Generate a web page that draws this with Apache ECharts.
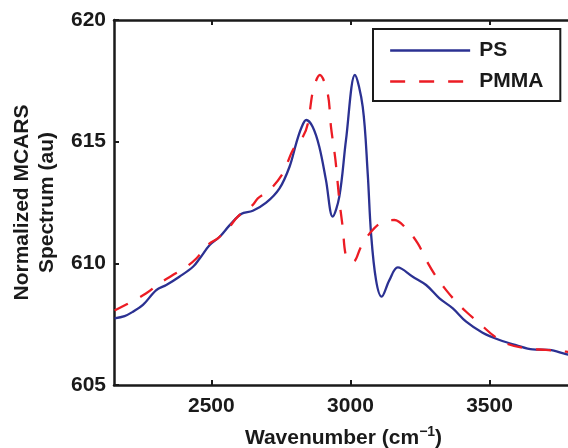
<!DOCTYPE html>
<html>
<head>
    <meta charset="utf-8">
    <title>MCARS spectrum</title>
    <script src="https://cdn.jsdelivr.net/npm/echarts@6/dist/echarts.min.js"></script>
    <style>
        html,body{
            margin: 0;
            padding: 0;
            background: #ffffff;
        }
        #chart{
            width: 568px;
            height: 448px;
        }
    </style>
</head>
<body>
<div id="chart"></div>
<script>
    // values
    var psWavenumber = [2152, 2188, 2218, 2254, 2302, 2338, 2385, 2434, 2458, 2494, 2530, 2566, 2607, 2649, 2697, 2745, 2781, 2805, 2823, 2841, 2864, 2888, 2912, 2936, 2960, 2984, 3016, 3044, 3062, 3074, 3092, 3112, 3140, 3170, 3224, 3272, 3320, 3368, 3416, 3475, 3536, 3595, 3655, 3715, 3775, 3800];
    var psSignal = [607.74, 607.83, 608.01, 608.29, 608.90, 609.11, 609.45, 609.86, 610.20, 610.75, 611.09, 611.57, 612.03, 612.16, 612.49, 613.08, 613.97, 614.93, 615.55, 615.89, 615.61, 614.79, 613.42, 611.92, 612.74, 615.07, 617.74, 616.44, 613.70, 611.23, 609.31, 608.63, 609.31, 609.83, 609.45, 609.11, 608.56, 608.15, 607.60, 607.15, 606.85, 606.64, 606.46, 606.44, 606.27, 606.22];

    var pmmaWavenumber = [2152, 2224, 2266, 2314, 2356, 2410, 2446, 2494, 2523, 2565, 2595, 2649, 2667, 2709, 2757, 2793, 2829, 2847, 2866, 2890, 2918, 2930, 2946, 2960, 2972, 2986, 3010, 3038, 3074, 3116, 3158, 3200, 3242, 3272, 3308, 3344, 3380, 3416, 3464, 3512, 3559, 3631, 3703, 3775, 3800];
    var pmmaSignal = [608.06, 608.49, 608.77, 609.18, 609.48, 609.86, 610.20, 610.82, 611.03, 611.50, 611.92, 612.40, 612.67, 613.01, 613.70, 614.66, 615.20, 615.75, 617.12, 617.74, 616.99, 615.61, 614.25, 612.60, 611.50, 610.22, 610.07, 610.68, 611.30, 611.71, 611.78, 611.44, 610.82, 610.14, 609.45, 608.90, 608.42, 608.01, 607.53, 607.05, 606.71, 606.51, 606.44, 606.37, 606.35];

    var xTicks = [2500, 3000, 3500];

    function pairs(xs, ys){
        var out = [];
        for(var i=0;i<xs.length;i++){
            out.push([xs[i], ys[i]]);
        }
        return out;
    }

    var font = '"Liberation Sans", Arial, Helvetica, sans-serif';
    var ink = '#1a1a1a';

    var myChart = echarts.init(document.getElementById('chart'));
    var option = {
        animation: false,
        backgroundColor: '#ffffff',
        grid: {
            left: 114,
            top: 20,
            right: -5,
            bottom: 63,
            outerBoundsMode: 'none'
        },
        legend: {
            orient: 'vertical',
            left: 373,
            top: 29,
            padding: [11, 17, 9, 16],
            itemWidth: 80,
            itemHeight: 14,
            itemGap: 10,
            borderColor: ink,
            borderWidth: 2,
            backgroundColor: '#ffffff',
            itemStyle: {opacity: 0},
            lineStyle: {width: 2.3},
            textStyle: {
                fontFamily: font,
                fontWeight: 'bold',
                fontSize: 21,
                color: ink,
                padding: [0, 0, 0, 4]
            },
            data: ['PS', 'PMMA']
        },
        xAxis: [{
            type: 'value',
            min: 2150,
            max: 3800,
            splitNumber: 3,
            name: '{a|Wavenumber (cm}{s|−1}{a|)}',
            nameLocation: 'middle',
            nameGap: 40,
            nameTextStyle: {
                rich: {
                    a: {fontFamily: font, fontWeight: 'bold', fontSize: 21, color: ink},
                    s: {fontFamily: font, fontWeight: 'bold', fontSize: 14, color: ink, padding: [0, 0, 12, 0]}
                }
            },
            axisLine: {show: true, lineStyle: {color: ink, width: 2.5}},
            axisTick: {show: true, inside: true, length: 5, customValues: xTicks, lineStyle: {color: ink, width: 2}},
            axisLabel: {
                customValues: xTicks,
                margin: 11,
                formatter: function(v){ return String(v); },
                fontFamily: font,
                fontWeight: 'bold',
                fontSize: 21,
                color: ink
            },
            splitLine: {show: false}
        }, {
            type: 'value',
            position: 'top',
            min: 2150,
            max: 3800,
            splitNumber: 3,
            axisLine: {show: true, lineStyle: {color: ink, width: 2.5}},
            axisTick: {show: true, inside: true, length: 5, customValues: xTicks, lineStyle: {color: ink, width: 2}},
            axisLabel: {show: false},
            splitLine: {show: false}
        }],
        yAxis: {
            type: 'value',
            min: 605,
            max: 620,
            interval: 5,
            name: 'Normalized MCARS\nSpectrum (au)',
            nameLocation: 'middle',
            nameGap: 54,
            nameTextStyle: {
                fontFamily: font,
                fontWeight: 'bold',
                fontSize: 21,
                lineHeight: 25,
                color: ink
            },
            axisLine: {show: true, lineStyle: {color: ink, width: 2.5}},
            axisTick: {show: true, inside: true, length: 5, lineStyle: {color: ink, width: 2}},
            axisLabel: {
                margin: 8,
                fontFamily: font,
                fontWeight: 'bold',
                fontSize: 21,
                color: ink
            },
            splitLine: {show: false}
        },
        series: [{
            name: 'PS',
            type: 'line',
            showSymbol: false,
            symbol: 'none',
            smooth: 0.35,
            data: pairs(psWavenumber, psSignal),
            lineStyle: {color: '#2b3192', width: 2.3},
            itemStyle: {color: '#2b3192'}
        }, {
            name: 'PMMA',
            type: 'line',
            showSymbol: false,
            symbol: 'none',
            smooth: 0.35,
            data: pairs(pmmaWavenumber, pmmaSignal),
            lineStyle: {color: '#ec1c24', width: 2.3, type: [15, 14]},
            itemStyle: {color: '#ec1c24'}
        }]
    };
    myChart.setOption(option);
</script>
</body>
</html>
